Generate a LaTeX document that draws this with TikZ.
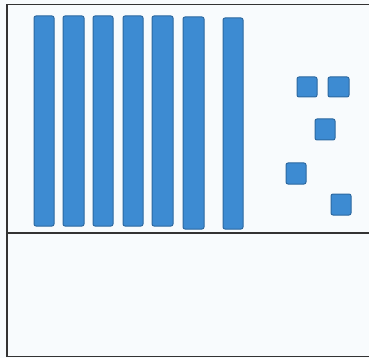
\documentclass[tikz,border=0pt]{standalone}
\begin{document}
\begin{tikzpicture}[x=1pt,y=-1pt,
  rod/.style={fill=rodblue,draw=rodedge,line width=1pt,rounded corners=2pt},
  frameline/.style={draw=black!80,line width=1.6pt}]
\definecolor{rodblue}{HTML}{3D8BD2}
\definecolor{rodedge}{HTML}{2C68A0}
\definecolor{paper}{HTML}{F8FBFD}
\fill[paper] (0,0) rectangle (369,358);
\useasboundingbox (0,0) rectangle (369,358);
% frame
\coordinate (tr) at (369,4.5);
\coordinate (tl) at (7,4.5);
\coordinate (bl) at (7,356.5);
\coordinate (br) at (369,356.5);
\coordinate (ml) at (7,233);
\coordinate (mr) at (369,233);
\draw[frameline] (tr) -- (tl) -- (bl) -- (br);
\draw[frameline] (ml) -- (mr);
% rods
\draw[rod] (34,16) rectangle (54,226);
\draw[rod] (63,16) rectangle (84,226);
\draw[rod] (93,16) rectangle (113,226);
\draw[rod] (123,16) rectangle (143,226);
\draw[rod] (152,16) rectangle (173,226);
\draw[rod] (183,17) rectangle (204,229);
\draw[rod] (223,18) rectangle (243,229);
% units
\draw[rod] (297,77) rectangle (317,97);
\draw[rod] (328,77) rectangle (349,97);
\draw[rod] (315,119) rectangle (335,140);
\draw[rod] (286,163) rectangle (306,184);
\draw[rod] (331,194) rectangle (351,215);
\end{tikzpicture}
\end{document}
